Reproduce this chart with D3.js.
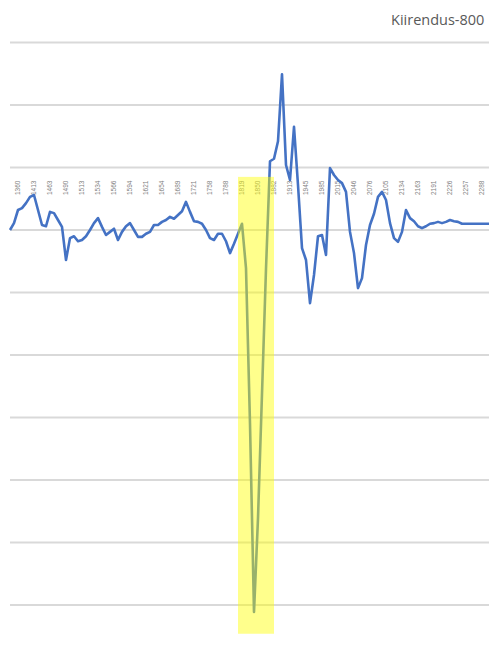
<!DOCTYPE html>
<html>
<head>
<meta charset="utf-8">
<script src="https://cdn.jsdelivr.net/npm/d3@7"></script>
<style>
    html, body { margin: 0; padding: 0; background: #ffffff; }
    svg { display: block; }
</style>
</head>
<body>
<svg id="chart" width="489" height="666"></svg>
<script>
/**
 * Chart data
 */
var chartTitle = "Kiirendus-800";

// acceleration samples, one per category
var accel = [
    0, 0.11, 0.32, 0.35, 0.43, 0.53, 0.56, 0.32, 0.08, 0.06,
    0.29, 0.27, 0.16, 0.05, -0.48, -0.13, -0.10, -0.18, -0.16, -0.10,
    0, 0.11, 0.19, 0.05, -0.08, -0.03, 0.02, -0.16, -0.03, 0.06,
    0.11, 0, -0.11, -0.11, -0.06, -0.03, 0.08, 0.08, 0.13, 0.16,
    0.21, 0.18, 0.24, 0.30, 0.45, 0.29, 0.14, 0.13, 0.10, 0,
    -0.13, -0.16, -0.06, -0.06, -0.18, -0.37, -0.22, -0.06, 0.10, -0.61,
    -3.10, -6.11, -4.61, -2.62, -0.62, 1.10, 1.14, 1.42, 2.49, 1.04,
    0.80, 1.65, 0.72, -0.29, -0.48, -1.17, -0.72, -0.10, -0.08, -0.40,
    0.99, 0.88, 0.80, 0.75, 0.61, -0.03, -0.37, -0.93, -0.77, -0.24,
    0.08, 0.26, 0.53, 0.61, 0.48, 0.11, -0.13, -0.19, -0.03, 0.32,
    0.19, 0.14, 0.06, 0.03, 0.06, 0.10, 0.11, 0.13, 0.11, 0.13,
    0.16, 0.14, 0.13, 0.10, 0.10, 0.10, 0.10, 0.10, 0.10, 0.10,
    0.10
];

// category labels shown on the axis (every 4th sample)
var tickLabels = [
    "1360", "1413", "1463", "1490", "1513", "1534", "1566", "1594", "1621", "1654",
    "1689", "1721", "1758", "1788", "1819", "1850", "1882", "1913", "1945", "1985",
    "2015", "2046", "2076", "2105", "2134", "2163", "2191", "2226", "2257", "2288"
];

// y gridline values
var gridValues = [3, 2, 1, 0, -1, -2, -3, -4, -5, -6, -7];

// highlighted span (sample indices) and its vertical extent
var highlightFrom = 57, highlightTo = 66;
var highlightTop = 0.85, highlightBottom = -6.46;

window.onload = function(){
    drawChart();
};

function drawChart(){
    let svg = d3.select("#chart");

    let left = 10, step = 4;

    // category scale: one point per sample
    let xScale = d3.scalePoint()
        .domain(d3.range(accel.length))
        .range([left, left + step * (accel.length - 1)]);

    let yScale = d3.scaleLinear()
        .domain([-7, 3])
        .range([667.5, 42.5]);

    // gridlines
    svg.append("g")
        .selectAll("line")
        .data(gridValues)
        .enter()
        .append("line")
        .attr("x1", left)
        .attr("x2", 489)
        .attr("y1", d => yScale(d))
        .attr("y2", d => yScale(d))
        .style("stroke", "#d9d9d9")
        .style("stroke-width", 1.8);

    // category labels, rotated, sitting above the zero line
    let labelIdx = tickLabels.map((t, i) => 2 + i * 4);
    svg.append("g")
        .selectAll("text")
        .data(tickLabels)
        .enter()
        .append("text")
        .attr("transform", (d, i) => `translate(${xScale(labelIdx[i]) + 2},${yScale(0.56)}) rotate(-90)`)
        .attr("text-anchor", "start")
        .style("font-family", "Liberation Sans, Arial, sans-serif")
        .style("font-size", "6.5px")
        .style("fill", "#7f7f7f")
        .text(d => d);

    // series line
    let line = d3.line()
        .x((d, i) => xScale(i))
        .y(d => yScale(d));

    svg.append("path")
        .datum(accel)
        .attr("d", line)
        .style("fill", "none")
        .style("stroke", "#4472c4")
        .style("stroke-width", 2.6)
        .style("stroke-linejoin", "round");

    // yellow highlight over the drop
    svg.append("rect")
        .attr("x", xScale(highlightFrom))
        .attr("y", yScale(highlightTop))
        .attr("width", xScale(highlightTo) - xScale(highlightFrom))
        .attr("height", yScale(highlightBottom) - yScale(highlightTop))
        .style("fill", "#ffff00")
        .style("opacity", 0.45);

    // title at the top right
    svg.append("text")
        .attr("x", 391)
        .attr("y", 25)
        .style("font-family", "Open Sans, Liberation Sans, sans-serif")
        .style("font-size", "14.5px")
        .style("fill", "#595959")
        .text(chartTitle);
}
</script>
</body>
</html>
